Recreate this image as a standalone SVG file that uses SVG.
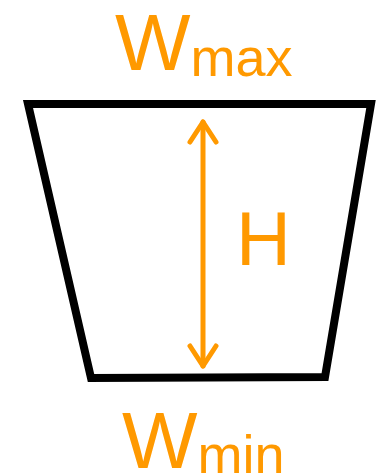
<svg xmlns="http://www.w3.org/2000/svg" width="376" height="475" viewBox="0 0 376 475">
<style>
.lbl{font-family:"Liberation Sans",Arial,sans-serif;fill:#FF9900}
.big{font-size:80px}
.sub{font-size:54px}
.edge{fill:none;stroke:#FF9900;stroke-width:5;stroke-linecap:round;stroke-linejoin:round}
</style>
<rect width="376" height="475" fill="#fff"/>
<g id="trapezoid">
<polygon points="28,104 371,104 325,377 91,378" fill="#fff" stroke="#000" stroke-width="8" stroke-linejoin="miter"/>
</g>
<g id="wmax">
<text class="lbl" x="115" y="70"><tspan class="big">W</tspan><tspan class="sub" dy="6">max</tspan></text>
</g>
<g id="wmin">
<text class="lbl" x="122" y="468"><tspan class="big">W</tspan><tspan class="sub" dy="5">min</tspan></text>
</g>
<g id="h-label">
<text class="lbl big" x="236" y="265" font-size="76px" style="font-size:76px">H</text>
</g>
<g id="connectors">
<line class="edge" x1="203" y1="122" x2="203" y2="366"/>
<polyline class="edge" points="190,142 203,122 216,142"/>
<polyline class="edge" points="190,346 203,366 216,346"/>
</g>
</svg>
